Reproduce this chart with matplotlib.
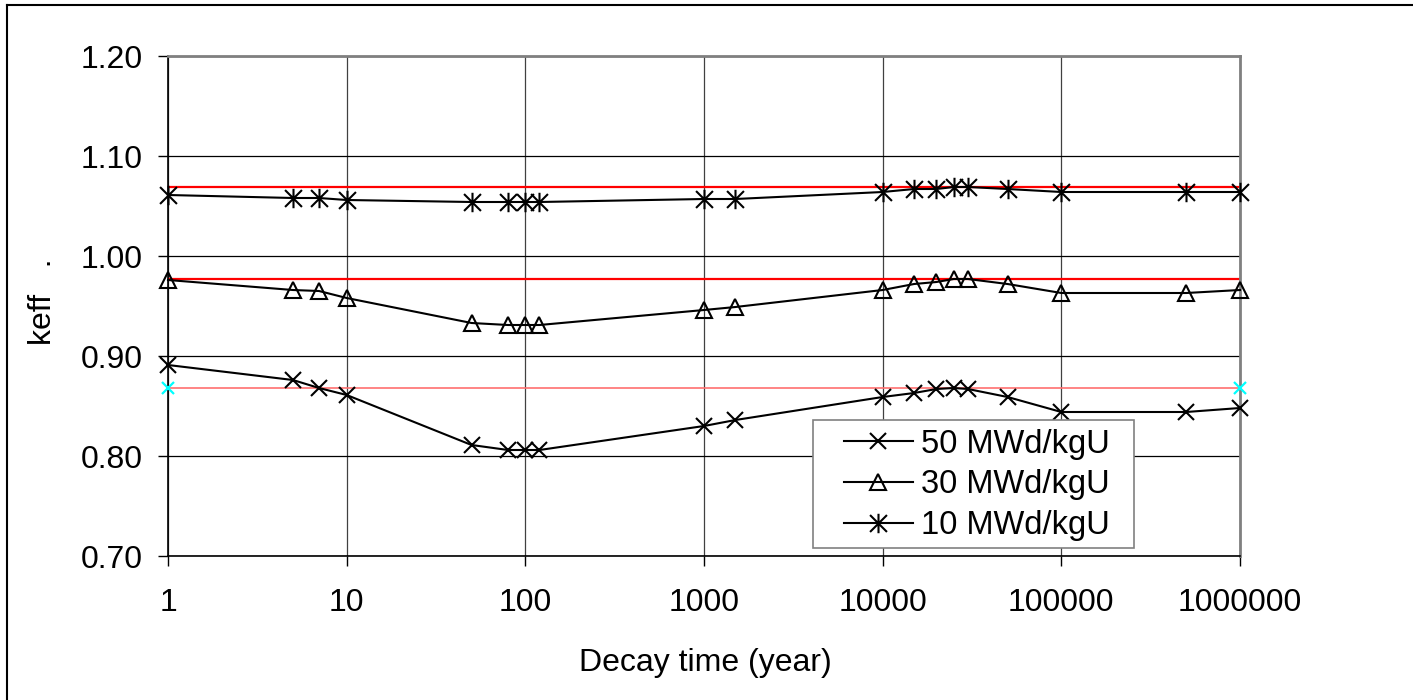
import matplotlib
matplotlib.use("Agg")
import matplotlib.pyplot as plt
from matplotlib.path import Path
from matplotlib.patches import Rectangle
from matplotlib.lines import Line2D
from matplotlib.ticker import FixedLocator, FixedFormatter, NullLocator

plt.rcParams['font.family'] = ['Liberation Sans', 'DejaVu Sans']

# ---- data ----
decay_years = [1, 5, 7, 10, 50, 80, 100, 120, 1000, 1500, 10000, 15000, 20000,
               25000, 30000, 50000, 100000, 500000, 1000000]
keff_50 = [0.891, 0.876, 0.868, 0.861, 0.811, 0.806, 0.806, 0.806, 0.830, 0.836,
           0.859, 0.863, 0.867, 0.868, 0.867, 0.859, 0.844, 0.844, 0.848]
keff_30 = [0.976, 0.966, 0.965, 0.958, 0.933, 0.931, 0.931, 0.931, 0.946, 0.949,
           0.966, 0.972, 0.974, 0.977, 0.977, 0.972, 0.963, 0.963, 0.966]
keff_10 = [1.061, 1.058, 1.058, 1.056, 1.054, 1.054, 1.054, 1.054, 1.057, 1.057,
           1.064, 1.067, 1.067, 1.069, 1.069, 1.067, 1.064, 1.064, 1.064]
ref_x = [1, 1000000]
ref_top = [1.069, 1.069]
ref_mid = [0.977, 0.977]
ref_low = [0.868, 0.868]
series_labels = ["50 MWd/kgU", "30 MWd/kgU", "10 MWd/kgU"]
x_ticks = [1, 10, 100, 1000, 10000, 100000, 1000000]
x_tick_labels = ["1", "10", "100", "1000", "10000", "100000", "1000000"]
y_ticks = [0.70, 0.80, 0.90, 1.00, 1.10, 1.20]

W, H = 1413, 700
FS = 23
LFS = 23.5

fig = plt.figure(figsize=(W / 100, H / 100), dpi=100)
ax = fig.add_axes([168 / W, 1 - 556 / H, (1240 - 168) / W, 500 / H])

# asterisk marker (X plus vertical bar)
ast = Path([(-1, -1), (1, 1), (-1, 1), (1, -1), (0, -1.15), (0, 1.15)],
           [Path.MOVETO, Path.LINETO, Path.MOVETO, Path.LINETO, Path.MOVETO, Path.LINETO])

# reference lines
ax.plot(ref_x, ref_top, color='#ff0000', lw=1.6, zorder=2)
ax.plot(ref_x, ref_mid, color='#ff0000', lw=1.6, zorder=2)
ax.plot(ref_x, ref_low, color='#ff7070', lw=1.2, zorder=2)
ax.plot(ref_x, ref_low, ls='none', marker='x', ms=8, mew=1.6, color='#00ffff',
        zorder=3, clip_on=False)

kw = dict(color='black', lw=1.5, mew=1.5, mfc='none', clip_on=False, zorder=4)
h50, = ax.plot(decay_years, keff_50, marker='x', ms=12, label=series_labels[0], **kw)
h30, = ax.plot(decay_years, keff_30, marker='^', ms=11, label=series_labels[1], **kw)
h10, = ax.plot(decay_years, keff_10, marker=ast, ms=14, label=series_labels[2], **kw)

ax.set_xscale('log')
ax.set_xlim(1, 1000000)
ax.set_ylim(0.70, 1.20)
ax.xaxis.set_major_locator(FixedLocator(x_ticks))
ax.xaxis.set_major_formatter(FixedFormatter(x_tick_labels))
ax.xaxis.set_minor_locator(NullLocator())
ax.set_yticks(y_ticks)
ax.set_yticklabels([f"{v:.2f}" for v in y_ticks])

ax.grid(True, axis='y', color='black', lw=0.9, zorder=1)
ax.grid(True, axis='x', color='#404040', lw=0.9, zorder=1)
ax.set_axisbelow(True)

ax.tick_params(axis='both', direction='out', length=7, width=1, labelsize=FS,
               colors='black')
ax.tick_params(axis='y', pad=11)
ax.tick_params(axis='x', pad=16)

for s in ['left', 'bottom']:
    ax.spines[s].set_color('black')
    ax.spines[s].set_linewidth(1.2)
for s in ['top', 'right']:
    ax.spines[s].set_color('#808080')
    ax.spines[s].set_linewidth(2)

fig.text(705 / W, 1 - 663 / H, "Decay time (year)", ha='center', va='center', fontsize=FS)
fig.text(43 / W, 1 - 302 / H, "keff   .", ha='center', va='center', fontsize=FS,
         rotation=90)

# legend box
fig.add_artist(Rectangle((813 / W, 1 - 548 / H), 321 / W, 128 / H,
                         transform=fig.transFigure, facecolor='white',
                         edgecolor='#808080', lw=1.2, zorder=4))
leg = fig.legend(handles=[h50, h30, h10], labels=series_labels,
                 loc='center left', bbox_to_anchor=(844 / W, 1 - 485 / H),
                 bbox_transform=fig.transFigure, frameon=False, fontsize=LFS,
                 borderpad=0, handlelength=2.1, handletextpad=0.27,
                 labelspacing=0.3, borderaxespad=0)
leg.set_zorder(5)

# figure border (left and top visible)
fig.add_artist(Line2D([7 / W, 7 / W], [0, 1 - 5 / H], transform=fig.transFigure,
                      color='black', lw=1.5))
fig.add_artist(Line2D([7 / W, 1], [1 - 5 / H, 1 - 5 / H], transform=fig.transFigure,
                      color='black', lw=1.5))

fig.savefig("out.png", dpi=100)
